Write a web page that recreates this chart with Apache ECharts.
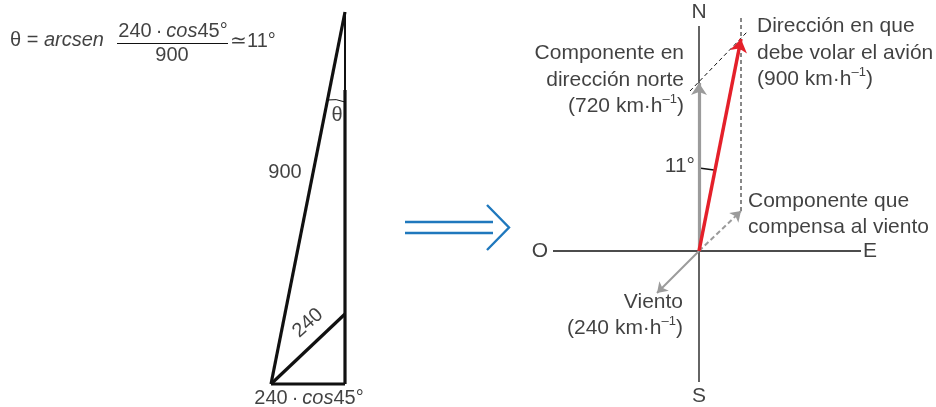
<!DOCTYPE html>
<html><head><meta charset="utf-8">
<script src="https://cdn.jsdelivr.net/npm/echarts@6/dist/echarts.min.js"></script>
<style>html,body{margin:0;padding:0;background:#fff}#c{width:936px;height:407px}</style>
</head><body><div id="c"></div>
<script>
// ---- geometry (diagram units: x to the right, y downward) ----
// left triangle
const hypotenuse900 = [[271,384],[345,12]];
const baseSide = [[271,384],[345,384]];
const rightSideLower = [[345,384],[345,90]];
const rightSideUpper = [[345,90],[345,12]];
const side240 = [[271,384],[345,314]];
const thetaArc = [[327,100],[345,102]];
// blue "implies" arrow
const implyBars = [[[405,222],[493,222]],[[405,233],[493,233]]];
const implyHead = [[487,205],[509,227.5],[487,250]];
// right vector diagram
const axisEastWest = [[553,251],[861,251]];
const axisNorthTop = [[699,26],[699,83]];
const axisSouth = [[699,251],[699,382]];
const northComponent = [[699,251],[699,83]];
const planeVector = [[699,251],[741,39]];
const windVector = [[699,251],[657,293]];
const windCompensation = [[699,251],[741,211]];
const guideVertical = [[741,211],[741,17]];
const guideDiagonal = [[690,91],[747,32]];
const angleMark11 = [[699,168],[714,170]];

// ---- texts: [x, y, text] ----
const formulaLeftTexts = [[10,40,'θ = {i|arcsen}'],[230,41,'≃11°']];
const formulaCenterTexts = [[173,31,'240\u2009·\u2009{i|cos}45°'],[172,55,'900']];
const fractionBar = [[117,43.5],[228,43.5]];
const triangleTexts = [[285,172,'900'],[337,115,'θ'],[309,398,'240\u2009·\u2009{i|cos}45°']];
const rotatedTexts = [[308,323,'240']];
const compassTexts = [[699,12,'N'],[699,396,'S'],[540,251,'O'],[870,251,'E']];
const notesLeftAligned = [
  [757,53,'Dirección en que\ndebe volar el avión\n(900 km·h{s|–1})'],
  [748,214,'Componente que\ncompensa al viento']
];
const notesRightAligned = [
  [684,80,'Componente en\ndirección norte\n(720 km·h{s|–1})'],
  [683,315,'Viento\n(240 km·h{s|–1})'],
  [695,166,'11°']
];

const FONT = '"Liberation Sans", Arial, Helvetica, sans-serif';
const BLACK = '#111111', GRAY = '#9b9b9b', RED = '#e4202a', BLUE = '#1f78bd';

function seg(list, style, extra) {
  return Object.assign({
    type: 'lines', coordinateSystem: 'cartesian2d', polyline: true, silent: true,
    symbol: ['none', 'none'], z: 2,
    lineStyle: Object.assign({ opacity: 1, cap: 'butt' }, style),
    data: list.map(c => ({ coords: c }))
  }, extra || {});
}
const plain = { textBorderWidth: 0, textBorderColor: 'transparent', textShadowBlur: 0 };
const rich = (size) => ({
  i: Object.assign({ fontStyle: 'italic', fontSize: size, fontFamily: FONT, color: BLACK }, plain),
  s: Object.assign({ fontSize: Math.round(size * 0.6), fontFamily: FONT, color: BLACK, verticalAlign: 'top', lineHeight: 20 }, plain)
});
function texts(list, size, align, extra) {
  return {
    type: 'scatter', symbolSize: 1, silent: true, z: 5,
    itemStyle: { color: 'rgba(255,255,255,0)' },
    data: list.map(t => ({ value: [t[0], t[1]], name: t[2] })),
    label: Object.assign({
      show: true, position: 'inside', align: align, verticalAlign: 'middle',
      formatter: p => p.name, fontSize: size, fontFamily: FONT, color: BLACK,
      lineHeight: 26.5, rich: rich(size)
    }, plain, extra || {})
  };
}

const chart = echarts.init(document.getElementById('c'));
chart.setOption({
  animation: false,
  backgroundColor: '#fff',
  grid: { left: 0, right: 0, top: 0, bottom: 0 },
  xAxis: { type: 'value', min: 0, max: 936, show: false },
  yAxis: { type: 'value', min: 0, max: 407, inverse: true, show: false },
  series: [
    seg([hypotenuse900, baseSide, rightSideLower, side240], { color: BLACK, width: 3.2 }),
    seg([rightSideUpper], { color: BLACK, width: 2 }),
    seg([thetaArc], { color: BLACK, width: 1, curveness: 0.15 }, { polyline: false }),
    seg(implyBars, { color: BLUE, width: 2.4 }),
    seg([implyHead], { color: BLUE, width: 2.4, join: 'miter' }),
    seg([axisEastWest, axisNorthTop, axisSouth, angleMark11], { color: BLACK, width: 1.3 }),
    seg([guideVertical, guideDiagonal], { color: BLACK, width: 1, type: [4, 3] }),
    seg([windCompensation], { color: GRAY, width: 2, type: [5, 3] }, { polyline: false, symbol: ['none', 'arrow'], symbolSize: 10 }),
    seg([windVector], { color: GRAY, width: 2 }, { polyline: false, symbol: ['none', 'arrow'], symbolSize: 10 }),
    seg([northComponent], { color: GRAY, width: 3.2 }, { polyline: false, symbol: ['none', 'arrow'], symbolSize: 12 }),
    seg([planeVector], { color: RED, width: 3.5 }, { polyline: false, symbol: ['none', 'arrow'], symbolSize: 13 }),
    seg([fractionBar], { color: BLACK, width: 1 }),
    texts(formulaLeftTexts, 20, 'left'),
    texts(formulaCenterTexts, 20, 'center'),
    texts(triangleTexts, 20, 'center'),
    texts(rotatedTexts, 20, 'center', { rotate: 42 }),
    texts(compassTexts, 21, 'center'),
    texts(notesLeftAligned, 21, 'left'),
    texts(notesRightAligned, 21, 'right')
  ]
});
</script></body></html>
